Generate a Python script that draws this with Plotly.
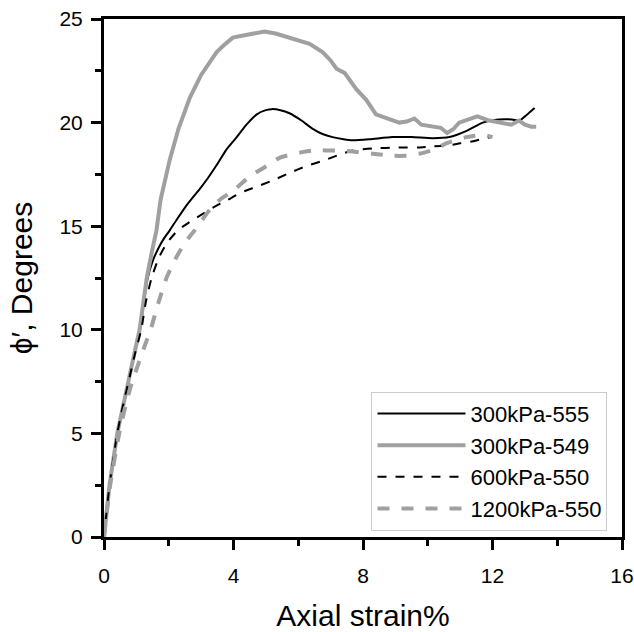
import plotly.graph_objects as go

# 300kPa-555 (black solid)
x_300_555 = [0, 0.17, 0.41, 0.58, 0.75, 0.93, 1.11, 1.23, 1.35, 1.5, 1.7, 1.85, 2.03, 2.24, 2.5, 2.75,
             2.96, 3.2, 3.5, 3.78, 4.1, 4.4, 4.72, 5.0, 5.18, 5.45, 5.73, 6.1, 6.45, 6.75, 7.06, 7.4,
             7.68, 8.2, 8.9, 9.5, 10.15, 10.67, 11.2, 11.7, 12.2, 12.6, 12.83, 13.0, 13.15, 13.3]
y_300_555 = [0, 2.5, 5.0, 6.3, 7.5, 8.8, 10.0, 11.3, 12.5, 13.3, 14.0, 14.4, 14.8, 15.3, 15.9, 16.4,
             16.8, 17.3, 18.0, 18.7, 19.3, 19.9, 20.4, 20.6, 20.65, 20.6, 20.45, 20.1, 19.7, 19.45, 19.3, 19.2,
             19.15, 19.2, 19.3, 19.3, 19.25, 19.3, 19.6, 20.0, 20.15, 20.15, 20.1, 20.3, 20.5, 20.7]

# 300kPa-549 (grey solid)
x_300_549 = [0, 0.17, 0.41, 0.58, 0.75, 0.93, 1.1, 1.2, 1.32, 1.47, 1.62, 1.75, 1.88, 2.03, 2.3, 2.65,
             3.0, 3.25, 3.48, 3.75, 3.98, 4.3, 4.6, 4.96, 5.3, 5.73, 6.05, 6.35, 6.75, 7.0, 7.18, 7.43,
             7.8, 8.1, 8.4, 8.72, 9.12, 9.35, 9.59, 9.8, 10.15, 10.4, 10.6, 10.8, 10.97, 11.25, 11.53,
             11.9, 12.25, 12.58, 12.82, 13.0, 13.2, 13.35]
y_300_549 = [0, 2.5, 5.0, 6.3, 7.5, 8.8, 10.0, 11.2, 12.5, 13.7, 14.8, 16.3, 17.2, 18.2, 19.7, 21.2,
             22.3, 22.9, 23.4, 23.8, 24.1, 24.2, 24.3, 24.4, 24.3, 24.1, 23.95, 23.8, 23.4, 23.0, 22.6, 22.4,
             21.6, 21.1, 20.4, 20.2, 20.0, 20.05, 20.2, 19.9, 19.8, 19.75, 19.5, 19.7, 20.0, 20.15, 20.3,
             20.1, 20.0, 19.9, 20.1, 19.9, 19.8, 19.8]

# 600kPa-550 (black dashed)
x_600_550 = [0, 0.17, 0.41, 0.58, 0.76, 0.95, 1.15, 1.3, 1.47, 1.7, 1.95, 2.28, 2.55, 2.95, 3.37, 3.8,
             4.2, 4.7, 5.2, 5.7, 6.25, 6.75, 7.27, 7.68, 8.3, 9.1, 9.7, 10.15, 10.67, 11.0, 11.4, 11.8, 11.96]
y_600_550 = [0, 2.5, 5.0, 6.3, 7.5, 8.8, 10.0, 11.4, 12.5, 13.5, 14.2, 14.8, 15.1, 15.5, 15.9, 16.25,
             16.6, 16.9, 17.2, 17.55, 17.9, 18.15, 18.45, 18.65, 18.75, 18.8, 18.8, 18.85, 18.9, 19.0, 19.1, 19.25, 19.3]

# 1200kPa-550 (grey dashed)
x_1200_550 = [0, 0.19, 0.47, 0.66, 0.87, 1.05, 1.25, 1.44, 1.68, 1.93, 2.2, 2.5, 2.8, 3.27, 3.6, 3.98,
              4.5, 5.02, 5.42, 6.05, 6.45, 7.27, 7.68, 8.3, 8.9, 9.3, 9.74, 10.2, 10.57, 11.2, 11.74, 12.0]
y_1200_550 = [0, 2.5, 5.0, 6.3, 7.5, 8.3, 9.2, 10.0, 11.3, 12.5, 13.4, 14.2, 14.8, 15.8, 16.3, 16.7,
              17.4, 17.9, 18.3, 18.55, 18.65, 18.65, 18.6, 18.5, 18.4, 18.4, 18.5, 18.7, 19.0, 19.3, 19.4, 19.3]

series_names = ["300kPa-555", "300kPa-549", "600kPa-550", "1200kPa-550"]
x_ticks = [0, 4, 8, 12, 16]
y_ticks = [0, 5, 10, 15, 20, 25]

GREY = "#a0a0a0"
FONT = "Liberation Sans, Arial, sans-serif"

fig = go.Figure()
fig.add_trace(go.Scatter(x=x_300_555, y=y_300_555, mode="lines", name=series_names[0],
                         line=dict(color="black", width=2, shape="spline", smoothing=0.6)))
fig.add_trace(go.Scatter(x=x_300_549, y=y_300_549, mode="lines", name=series_names[1],
                         line=dict(color=GREY, width=4)))
fig.add_trace(go.Scatter(x=x_600_550, y=y_600_550, mode="lines", name=series_names[2],
                         line=dict(color="black", width=2, dash="dash", shape="spline", smoothing=0.6)))
fig.add_trace(go.Scatter(x=x_1200_550, y=y_1200_550, mode="lines", name=series_names[3],
                         line=dict(color=GREY, width=4, dash="dash", shape="spline", smoothing=0.6)))

axis_common = dict(showgrid=False, zeroline=False, showline=True, linecolor="black", linewidth=3,
                   mirror=True, ticks="outside", ticklen=10, tickwidth=3, tickcolor="black",
                   automargin=False,
                   tickfont=dict(family=FONT, size=21, color="black"))

fig.update_xaxes(range=[0, 16], tickvals=x_ticks, ticklabelstandoff=8,
                 minor=dict(dtick=2, ticks="outside", ticklen=6, tickwidth=3, tickcolor="black"),
                 title=dict(text="Axial strain%", font=dict(family=FONT, size=30, color="black"), standoff=20),
                 **axis_common)
fig.update_yaxes(range=[0, 25], tickvals=y_ticks, ticklabelstandoff=4,
                 minor=dict(dtick=2.5, ticks="outside", ticklen=6, tickwidth=3, tickcolor="black"),
                 title=dict(text="ϕ′, Degrees", font=dict(family=FONT, size=30, color="black"), standoff=18),
                 **axis_common)

fig.update_layout(
    width=634, height=632,
    margin=dict(l=104, r=12, t=19, b=95),
    plot_bgcolor="white", paper_bgcolor="white",
    font=dict(family=FONT, color="black"),
    legend=dict(x=0.972, y=0.012, xanchor="right", yanchor="bottom",
                bordercolor="#cccccc", borderwidth=1, bgcolor="white",
                font=dict(family=FONT, size=22, color="black"),
                itemwidth=88, tracegroupgap=0),
    showlegend=True,
)

fig.write_html("out.html", config={"displayModeBar": False},
               post_script="document.body.style.margin='0';")
